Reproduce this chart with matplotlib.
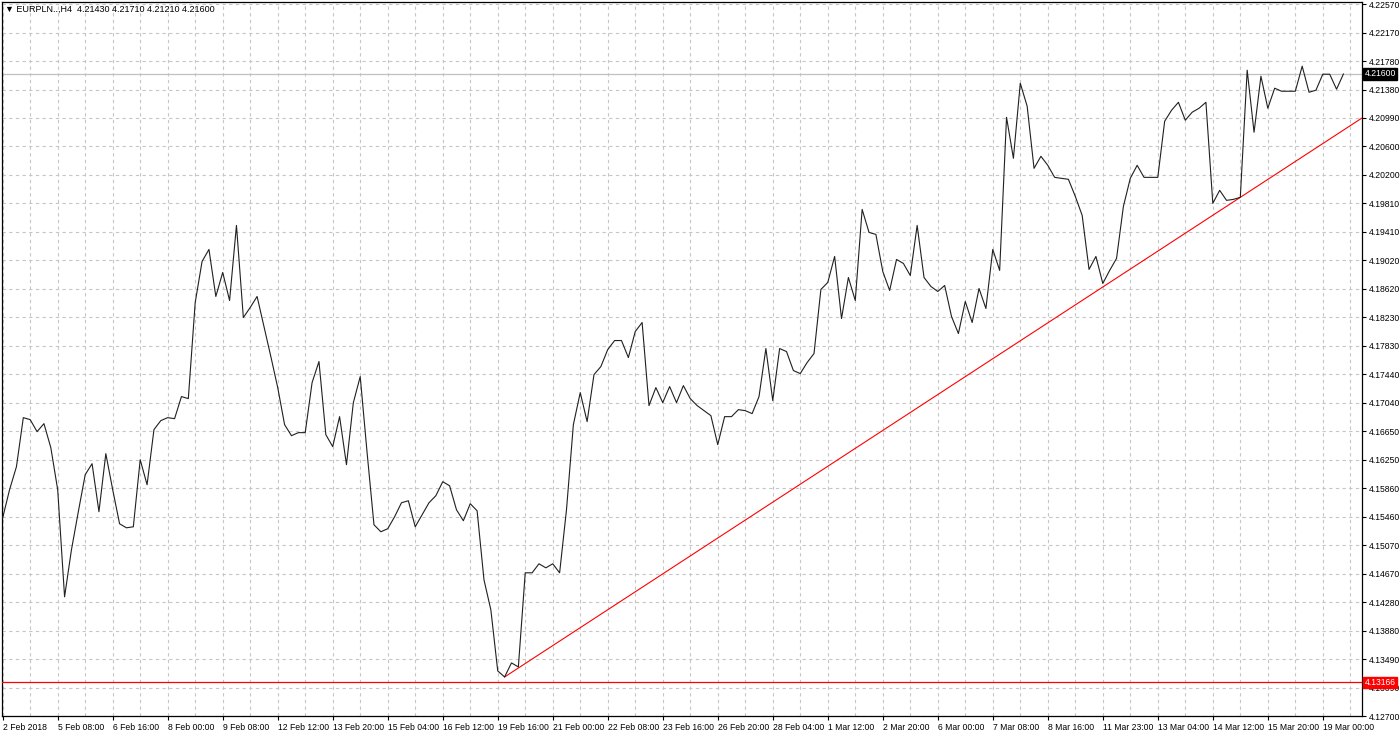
import numpy as np
import matplotlib.pyplot as plt
from matplotlib import transforms

# EURPLN H4 closes (bar 0 = 2 Feb 2018 00:00)
close = [
    4.15448, 4.15837, 4.16156, 4.16836, 4.16808, 4.16642, 4.16753, 4.16420, 4.15837, 4.14352,
    4.15004, 4.15532, 4.16045, 4.16198, 4.15532, 4.16337, 4.15837, 4.15365, 4.15309, 4.15323,
    4.16253, 4.15906, 4.16670, 4.16795, 4.16836, 4.16822, 4.17128, 4.17100, 4.18432, 4.19002,
    4.19168, 4.18516, 4.18849, 4.18460, 4.19501, 4.18224, 4.18363, 4.18516, 4.18099, 4.17683,
    4.17253, 4.16739, 4.16586, 4.16628, 4.16628, 4.17322, 4.17614, 4.16600, 4.16434, 4.16850,
    4.16184, 4.17044, 4.17405, 4.16350, 4.15351, 4.15254, 4.15296, 4.15462, 4.15656, 4.15684,
    4.15323, 4.15490, 4.15656, 4.15754, 4.15948, 4.15892, 4.15559, 4.15407, 4.15643, 4.15545,
    4.14588, 4.14171, 4.13325, 4.13241, 4.13436, 4.13380, 4.14685, 4.14685, 4.14810, 4.14754,
    4.14810, 4.14685, 4.15559, 4.16739, 4.17183, 4.16781, 4.17433, 4.17544, 4.17780, 4.17905,
    4.17905, 4.17669, 4.18030, 4.18155, 4.17003, 4.17253, 4.17044, 4.17267, 4.17044, 4.17280,
    4.17100, 4.17003, 4.16933, 4.16864, 4.16462, 4.16850, 4.16850, 4.16947, 4.16933, 4.16892,
    4.17128, 4.17794, 4.17072, 4.17794, 4.17752, 4.17489, 4.17447, 4.17600, 4.17725, 4.18613,
    4.18710, 4.19071, 4.18210, 4.18779, 4.18460, 4.19723, 4.19404, 4.19376, 4.18863, 4.18599,
    4.19029, 4.18974, 4.18807, 4.19501, 4.18779, 4.18655, 4.18585, 4.18668, 4.18238, 4.18002,
    4.18446, 4.18155, 4.18627, 4.18349, 4.19168, 4.18877, 4.21000, 4.20431, 4.21472, 4.21153,
    4.20292, 4.20459, 4.20334, 4.20167, 4.20154, 4.20140, 4.19904, 4.19640, 4.18891, 4.19071,
    4.18696, 4.18877, 4.19043, 4.19765, 4.20154, 4.20334, 4.20167, 4.20167, 4.20167, 4.20945,
    4.21097, 4.21208, 4.20959, 4.21070, 4.21125, 4.21208, 4.19807, 4.19987, 4.19848, 4.19862,
    4.19890, 4.21653, 4.20792, 4.21569, 4.21125, 4.21403, 4.21361, 4.21361, 4.21361, 4.21708,
    4.21347, 4.21375, 4.21597, 4.21597, 4.21389, 4.21600,
]

price_ticks = [4.22570, 4.22170, 4.21780, 4.21380, 4.20990, 4.20600, 4.20200, 4.19810,
               4.19410, 4.19020, 4.18620, 4.18230, 4.17830, 4.17440, 4.17040, 4.16650,
               4.16250, 4.15860, 4.15460, 4.15070, 4.14670, 4.14280, 4.13880, 4.13490,
               4.13090, 4.12700]

time_labels = ['2 Feb 2018', '5 Feb 08:00', '6 Feb 16:00', '8 Feb 00:00', '9 Feb 08:00',
               '12 Feb 12:00', '13 Feb 20:00', '15 Feb 04:00', '16 Feb 12:00', '19 Feb 16:00',
               '21 Feb 00:00', '22 Feb 08:00', '23 Feb 16:00', '26 Feb 20:00', '28 Feb 04:00',
               '1 Mar 12:00', '2 Mar 20:00', '6 Mar 00:00', '7 Mar 08:00', '8 Mar 16:00',
               '11 Mar 23:00', '13 Mar 04:00', '14 Mar 12:00', '15 Mar 20:00', '19 Mar 00:00']

bid_price = 4.21600
support_level = 4.13166
trend_bars = [73, 180]
trend_prices = [4.13241, 4.19890]
header = 'EURPLN..,H4  4.21430 4.21710 4.21210 4.21600'

plt.rcParams['font.family'] = ['Liberation Sans', 'DejaVu Sans']
FS = 6.2

fig = plt.figure(figsize=(14, 7.36), dpi=100)
fig.patch.set_facecolor('white')
ax = fig.add_axes([2 / 1400, 20 / 736, 1360 / 1400, 714 / 736])

bars = np.arange(len(close))
x_max = 197.7
ax.set_xlim(-0.1, x_max)
ax.set_ylim(4.12700, 4.22598)

# grid
ax.set_yticks(price_ticks)
ax.set_yticklabels(['%.5f' % v for v in price_ticks])
ax.set_xticks(np.arange(0, 8 * len(time_labels), 8))
ax.set_xticklabels(time_labels)
ax.set_xticks(np.arange(4, x_max, 8), minor=True)
grid_kw = dict(color='#c6c6c6', linestyle=(0, (3, 3)), linewidth=0.8)
ax.grid(True, axis='y', **grid_kw)
ax.grid(True, axis='x', which='both', **grid_kw)
ax.set_axisbelow(True)

ax.yaxis.tick_right()
ax.tick_params(axis='y', length=3, width=0.8, pad=2, labelsize=FS, colors='black')
ax.tick_params(axis='x', which='major', length=3, width=0.8, pad=2, labelsize=FS)
ax.tick_params(axis='x', which='minor', length=0)
for lab in ax.get_xticklabels():
    lab.set_horizontalalignment('left')
for sp in ax.spines.values():
    sp.set_linewidth(0.9)
    sp.set_color('black')

# horizontal levels
ax.axhline(bid_price, color='#c0c0c0', linewidth=0.9, zorder=2)
ax.axhline(support_level, color='red', linewidth=0.9, zorder=3)

# price line
ax.plot(bars, close, color='#202020', linewidth=0.8, zorder=4)

# trend ray from the low, through the touch point, to the right edge
slope = (trend_prices[1] - trend_prices[0]) / (trend_bars[1] - trend_bars[0])
end_price = trend_prices[0] + slope * (x_max - trend_bars[0])
ax.plot([trend_bars[0], x_max], [trend_prices[0], end_price], color='red',
        linewidth=0.8, zorder=3, clip_on=True)

# price boxes on the scale
tr = transforms.blended_transform_factory(ax.transAxes, ax.transData)
ax.text(1.0018, bid_price, '%.5f' % bid_price, transform=tr, fontsize=FS, color='white',
        va='center', ha='left', zorder=10,
        bbox=dict(boxstyle='square,pad=0.15', facecolor='black', edgecolor='black'))
ax.text(1.0018, support_level, '%.5f' % support_level, transform=tr, fontsize=FS,
        color='white', va='center', ha='left', zorder=10,
        bbox=dict(boxstyle='square,pad=0.15', facecolor='red', edgecolor='red'))

fig.text(5 / 1400, 1 - 9 / 736, '\u25bc ' + header, fontsize=FS + 0.3, va='center', ha='left')

fig.savefig('out.png', dpi=100, facecolor='white')
